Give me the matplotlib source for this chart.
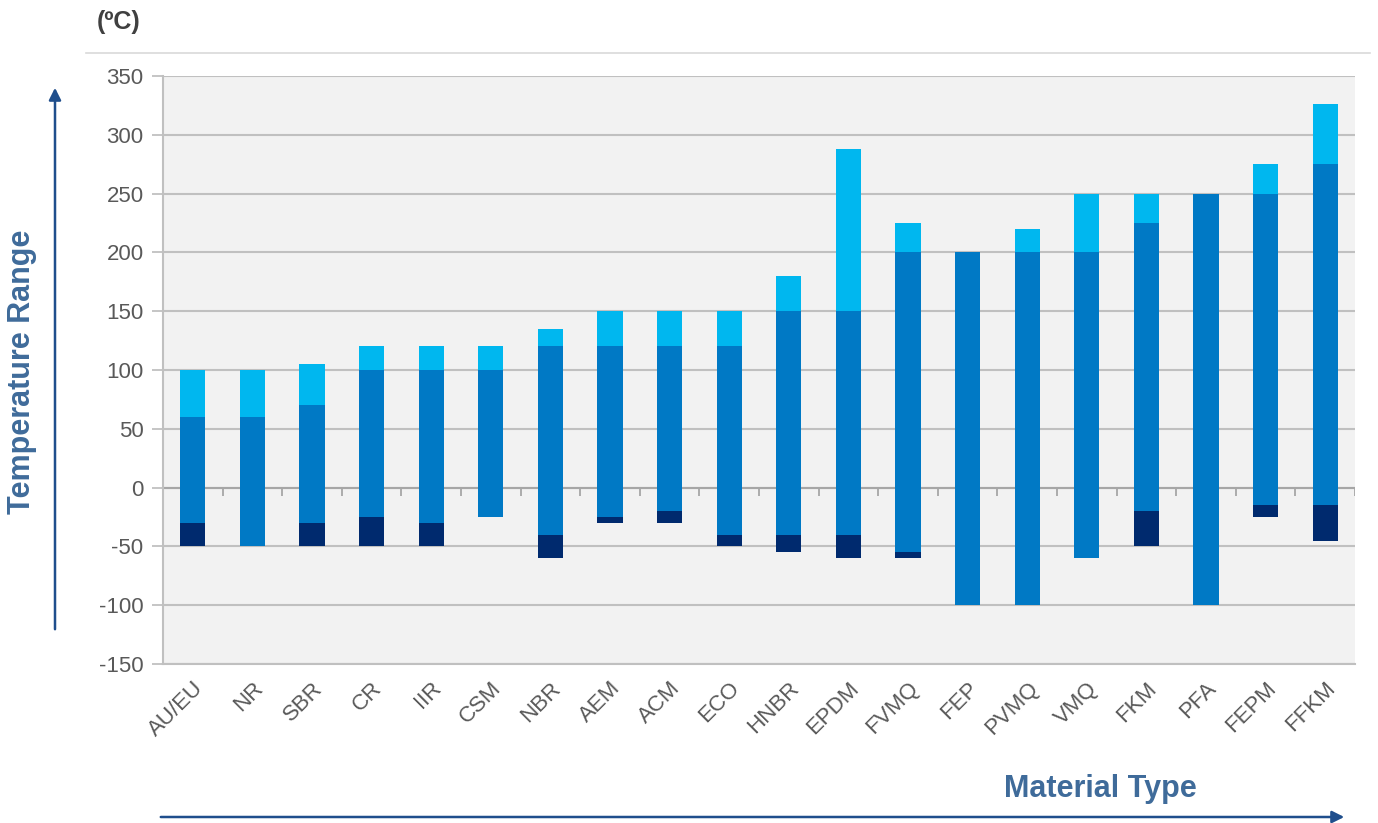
import matplotlib.pyplot as plt
from matplotlib.lines import Line2D
import numpy as np

# Material types and temperature limits (ºC)
materials = ["AU/EU", "NR", "SBR", "CR", "IIR", "CSM", "NBR", "AEM", "ACM", "ECO",
             "HNBR", "EPDM", "FVMQ", "FEP", "PVMQ", "VMQ", "FKM", "PFA", "FEPM", "FFKM"]
low_special = [-50, -50, -50, -50, -50, -25, -60, -30, -30, -50,
               -55, -60, -60, -100, -100, -60, -50, -100, -25, -45]
low_standard = [-30, -50, -30, -25, -30, -25, -40, -25, -20, -40,
                -40, -40, -55, -100, -100, -60, -20, -100, -15, -15]
high_standard = [60, 60, 70, 100, 100, 100, 120, 120, 120, 120,
                 150, 150, 200, 200, 200, 200, 225, 250, 250, 275]
high_special = [100, 100, 105, 120, 120, 120, 135, 150, 150, 150,
                180, 288, 225, 200, 220, 250, 250, 250, 275, 326]

C_DARK = "#002a6e"
C_MID = "#0079c5"
C_LIGHT = "#00b7ef"
C_TEXT = "#595959"
C_TITLE = "#3f6b9a"
C_ARROW = "#1f4e8c"

plt.rcParams['font.family'] = ['Liberation Sans', 'DejaVu Sans']
plt.rcParams['axes.unicode_minus'] = False

W, H = 1378, 823
fig = plt.figure(figsize=(W / 100, H / 100), dpi=100)
ax = fig.add_axes([163 / W, (H - 664) / H, (1355 - 163) / W, (664 - 76) / H])
ax.set_facecolor("#f2f2f2")

x = np.arange(len(materials))
lo_s = np.array(low_special)
lo = np.array(low_standard)
hi = np.array(high_standard)
hi_s = np.array(high_special)
width = 0.42

ax.bar(x, lo - lo_s, width, bottom=lo_s, color=C_DARK, zorder=3)
ax.bar(x, hi - lo, width, bottom=lo, color=C_MID, zorder=3)
ax.bar(x, hi_s - hi, width, bottom=hi, color=C_LIGHT, zorder=3)

ax.set_xlim(-0.5, len(materials) - 0.5)
ax.set_ylim(-150, 350)
ax.set_yticks(np.arange(-150, 351, 50))
ax.yaxis.grid(True, color="#c0c0c0", linewidth=1.5, zorder=1)
ax.axhline(0, color="#a6a6a6", linewidth=1.5, zorder=2)

# small category separators hanging under the zero line
ax.vlines(np.append(x[:-1] + 0.5, len(materials) - 0.5), -7, 0,
          color="#a6a6a6", linewidth=1.3, zorder=2)

for s in ["top", "right"]:
    ax.spines[s].set_visible(False)
ax.spines["left"].set_color("#c0c0c0")
ax.spines["left"].set_linewidth(1.5)
ax.spines["bottom"].set_color("#c0c0c0")
ax.spines["bottom"].set_linewidth(1.5)

ax.tick_params(axis="y", length=8, width=1.3, color="#c0c0c0", labelsize=16,
               labelcolor=C_TEXT, pad=6)
ax.set_xticks(x)
ax.set_xticklabels(materials, rotation=45, ha="right", rotation_mode="anchor",
                   fontsize=16, color=C_TEXT)
ax.tick_params(axis="x", length=0, pad=10)

# header
fig.text(97 / W, 1 - 22 / H, "(ºC)", fontsize=18, fontweight="bold", color="#404040",
         ha="left", va="center")
fig.add_artist(Line2D([86 / W, 1370 / W], [1 - 53 / H, 1 - 53 / H], color="#d9d9d9",
                      linewidth=1.2))

# axis titles with arrows
fig.text(22 / W, 1 - 372 / H, "Temperature Range", rotation=90, fontsize=22,
         fontweight="bold", color=C_TITLE, ha="center", va="center")
fig.text(1100 / W, 1 - 789 / H, "Material Type", fontsize=22, fontweight="bold",
         color=C_TITLE, ha="center", va="center")

ax.annotate("", xy=(55 / W, 1 - 85 / H), xytext=(55 / W, 1 - 632 / H),
            xycoords="figure fraction", textcoords="figure fraction",
            arrowprops=dict(arrowstyle="-|>", color=C_ARROW, lw=1.8, mutation_scale=18))
ax.annotate("", xy=(1347 / W, 1 - 817 / H), xytext=(158 / W, 1 - 817 / H),
            xycoords="figure fraction", textcoords="figure fraction",
            arrowprops=dict(arrowstyle="-|>", color=C_ARROW, lw=1.8, mutation_scale=18))

fig.savefig("out.png", dpi=100, facecolor="white")
